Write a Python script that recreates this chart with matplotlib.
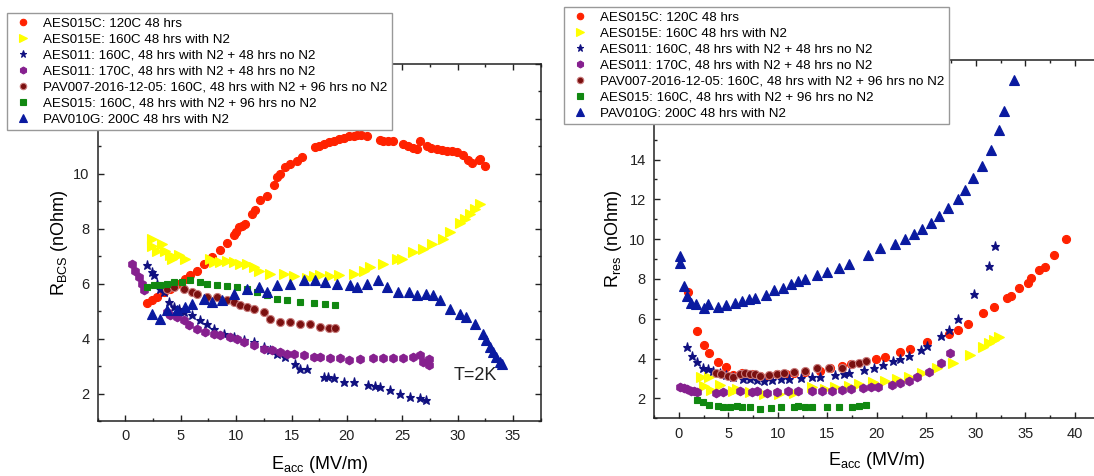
import matplotlib
matplotlib.use("Agg")
import matplotlib.pyplot as plt
from matplotlib.ticker import MultipleLocator, FixedLocator, FixedFormatter

plt.rcParams['font.family'] = ['Liberation Sans', 'DejaVu Sans']
plt.rcParams['mathtext.default'] = 'regular'

labels = [
    "AES015C: 120C 48 hrs",
    "AES015E: 160C 48 hrs with N2",
    "AES011: 160C, 48 hrs with N2 + 48 hrs no N2",
    "AES011: 170C, 48 hrs with N2 + 48 hrs no N2",
    "PAV007-2016-12-05: 160C, 48 hrs with N2 + 96 hrs no N2",
    "AES015: 160C, 48 hrs with N2 + 96 hrs no N2",
    "PAV010G: 200C 48 hrs with N2",
]

# ---------------- Left panel: R_BCS ----------------
bcs_red_x = [1.96, 2.4, 2.86, 3.46, 4.06, 4.66, 5.4, 5.87, 6.47, 7.07, 7.82, 8.57, 9.18, 9.78, 10.0, 10.23,
             10.5, 10.83, 11.43, 11.7, 12.18, 12.79, 13.39, 13.7, 13.99, 14.44, 14.9, 15.5, 15.95, 17.15, 17.5,
             17.9, 18.4, 18.8, 19.3, 19.7, 20.2, 20.6, 20.9, 21.3, 21.8, 23.0, 23.3, 23.7, 24.2, 25.1, 25.5,
             26.0, 26.3, 26.6, 27.2, 27.6, 28.1, 28.6, 29.0, 29.5, 29.9, 30.5, 30.9, 31.3, 31.9, 32.0, 32.5]
bcs_red_y = [5.30, 5.39, 5.5, 5.7, 5.82, 6.0, 6.18, 6.3, 6.48, 6.73, 6.97, 7.21, 7.48, 7.76, 7.9, 8.06,
             8.1, 8.18, 8.55, 8.7, 9.03, 9.21, 9.58, 9.9, 10.0, 10.24, 10.36, 10.48, 10.6, 10.97, 11.03,
             11.09, 11.15, 11.21, 11.26, 11.3, 11.36, 11.39, 11.43, 11.41, 11.36, 11.22, 11.21, 11.2, 11.18, 11.09, 11.0,
             10.94, 10.9, 11.18, 11.03, 10.95, 10.9, 10.88, 10.85, 10.82, 10.79, 10.67, 10.5, 10.39, 10.5, 10.55, 10.27]

bcs_yel_x = [2.4, 2.4, 2.86, 3.3, 3.6, 4.06, 4.2, 4.8, 5.4, 7.67, 7.97, 8.57, 9.18, 9.78, 10.38, 10.98,
             11.58, 12.03, 13.09, 14.29, 15.2, 16.4, 17.0, 17.6, 18.5, 19.3, 20.6, 21.5, 22.1, 23.3, 24.5,
             25.0, 26.0, 26.9, 27.7, 28.7, 29.3, 30.2, 30.7, 31.1, 31.6, 32.0]
bcs_yel_y = [7.64, 7.39, 7.2, 7.45, 7.2, 7.03, 6.9, 7.03, 6.9, 6.9, 6.79, 6.79, 6.82, 6.79, 6.73, 6.7,
             6.6, 6.48, 6.36, 6.36, 6.27, 6.22, 6.27, 6.3, 6.27, 6.3, 6.36, 6.48, 6.6, 6.73, 6.9,
             6.9, 7.15, 7.27, 7.45, 7.64, 7.88, 8.2, 8.36, 8.55, 8.73, 8.91]

bcs_star_x = [1.96, 2.4, 2.56, 2.86, 3.16, 3.46, 3.9, 4.36, 4.8, 5.26, 6.0, 6.77, 7.37, 7.97, 8.87, 9.78,
              10.68, 11.58, 12.48, 13.09, 13.69, 14.44, 15.35, 15.8, 16.4, 17.9, 18.3, 18.8, 19.7, 20.6,
              21.95, 22.5, 23.0, 23.9, 24.8, 25.7, 26.6, 27.1]
bcs_star_y = [6.67, 6.42, 6.3, 6.0, 5.82, 5.7, 5.33, 5.15, 5.09, 4.97, 4.85, 4.67, 4.55, 4.36, 4.18, 4.06,
              3.94, 3.88, 3.7, 3.58, 3.45, 3.33, 3.09, 2.91, 2.91, 2.61, 2.6, 2.55, 2.42, 2.42,
              2.3, 2.28, 2.24, 2.12, 2.0, 1.88, 1.82, 1.76]

bcs_pur_x = [0.6, 0.9, 1.2, 1.5, 1.7, 3.76, 4.06, 4.66, 5.26, 5.7, 6.47, 7.22, 7.97, 8.57, 9.48, 10.08,
             10.68, 11.58, 12.48, 13.24, 13.99, 14.59, 15.2, 16.1, 17.0, 17.6, 18.5, 19.4, 20.2, 21.2,
             22.4, 23.3, 24.2, 25.1, 26.0, 26.6, 26.9, 27.4, 27.4]
bcs_pur_y = [6.73, 6.48, 6.24, 6.0, 5.76, 4.97, 4.85, 4.79, 4.67, 4.48, 4.36, 4.24, 4.18, 4.12, 4.06, 4.0,
             3.88, 3.76, 3.64, 3.58, 3.52, 3.45, 3.43, 3.39, 3.33, 3.33, 3.31, 3.28, 3.21, 3.27,
             3.28, 3.28, 3.28, 3.31, 3.33, 3.39, 3.15, 3.03, 3.27]

bcs_pav7_x = [3.76, 4.36, 5.26, 6.0, 6.47, 7.37, 8.27, 9.18, 9.78, 10.38, 10.98, 11.58, 12.48, 13.09,
              13.99, 14.9, 15.8, 16.7, 17.6, 18.35, 18.95]
bcs_pav7_y = [5.82, 5.88, 5.82, 5.7, 5.64, 5.52, 5.52, 5.39, 5.33, 5.21, 5.15, 5.09, 4.97, 4.73,
              4.61, 4.61, 4.55, 4.52, 4.42, 4.4, 4.4]

bcs_grn_x = [1.96, 2.56, 3.16, 3.76, 4.36, 5.11, 5.87, 6.77, 7.37, 8.27, 9.18, 10.08, 10.98, 11.88,
             12.79, 13.69, 14.59, 15.8, 17.0, 18.05, 18.95]
bcs_grn_y = [5.88, 5.94, 5.94, 6.0, 6.06, 6.06, 6.12, 6.06, 6.0, 5.94, 5.9, 5.88, 5.82, 5.7,
             5.58, 5.45, 5.39, 5.33, 5.3, 5.27, 5.24]

bcs_tri_x = [2.4, 3.16, 3.76, 4.66, 5.4, 6.0, 7.07, 7.82, 8.72, 9.78, 10.98, 12.03, 12.79, 13.69, 14.9,
             16.1, 17.15, 18.05, 19.1, 20.3, 20.9, 21.8, 22.85, 23.6, 24.65, 25.6, 26.3, 27.1, 27.8,
             28.4, 29.3, 30.2, 30.8, 31.6, 32.3, 32.6, 32.9, 33.2, 33.5, 33.8, 34.0]
bcs_tri_y = [4.91, 4.73, 5.03, 5.03, 5.15, 5.27, 5.45, 5.33, 5.39, 5.64, 5.82, 5.88, 5.7, 5.94, 6.0,
             6.12, 6.12, 6.06, 6.0, 5.94, 5.88, 6.0, 6.15, 5.88, 5.7, 5.7, 5.58, 5.64, 5.58,
             5.39, 5.09, 4.91, 4.79, 4.55, 4.18, 3.94, 3.7, 3.51, 3.33, 3.15, 3.06]

# ---------------- Right panel: R_res ----------------
res_red_x = [0.96, 1.82, 2.51, 3.09, 3.95, 4.81, 5.5, 6.36, 7.39, 8.25, 9.11, 9.97, 10.83, 11.69, 12.72,
             14.27, 15.3, 16.5, 17.37, 19.94, 20.8, 22.35, 23.38, 25.1, 27.34, 28.2, 29.23, 30.78, 31.81,
             33.18, 33.53, 34.39, 35.25, 35.59, 36.38, 36.97, 37.9, 39.13]
res_red_y = [7.37, 5.39, 4.69, 4.27, 3.84, 3.6, 3.17, 3.3, 3.22, 3.14, 3.14, 3.22, 3.25, 3.3, 3.35,
             3.39, 3.55, 3.64, 3.72, 3.97, 4.06, 4.31, 4.47, 4.81, 5.23, 5.46, 5.76, 6.28, 6.6,
             7.06, 7.15, 7.57, 7.78, 8.07, 8.43, 8.6, 9.2, 9.99]

res_yel_x = [2.24, 3.09, 2.58, 3.27, 4.13, 5.5, 5.85, 7.22, 8.6, 10.14, 11.69, 13.41, 14.79, 15.82,
             17.19, 18.23, 19.6, 20.8, 22.0, 23.21, 24.59, 26.13, 27.68, 29.4, 30.78, 31.29, 31.81, 32.33]
res_yel_y = [3.05, 3.09, 2.64, 2.42, 2.67, 2.38, 2.47, 2.3, 2.22, 2.22, 2.25, 2.55, 2.47, 2.55,
             2.64, 2.72, 2.8, 2.89, 2.97, 3.09, 3.3, 3.55, 3.8, 4.19, 4.59, 4.76, 4.92, 5.09]

res_star_x = [0.86, 1.38, 1.89, 2.41, 2.92, 3.44, 4.13, 4.81, 5.5, 6.53, 7.22, 7.91, 8.6, 9.46, 10.32,
              11.18, 12.38, 13.41, 14.27, 15.82, 16.68, 17.19, 18.74, 19.77, 20.63, 21.66, 22.35, 23.21,
              24.42, 25.1, 26.48, 27.34, 28.2, 29.81, 31.29, 31.98]
res_star_y = [4.56, 4.14, 3.81, 3.55, 3.47, 3.39, 3.3, 3.19, 3.09, 2.97, 2.97, 2.92, 2.89, 2.92, 2.97,
              2.97, 3.02, 3.05, 3.05, 3.19, 3.22, 3.3, 3.42, 3.55, 3.69, 3.89, 3.97, 4.14,
              4.42, 4.64, 5.14, 5.43, 5.98, 7.26, 8.65, 9.65]

res_pur_x = [0.17, 0.52, 0.86, 1.2, 1.55, 1.89, 3.78, 4.47, 6.19, 7.39, 7.91, 8.94, 9.97, 11.0, 12.04,
             13.41, 14.44, 15.47, 16.5, 17.37, 18.57, 19.43, 20.12, 21.49, 22.35, 23.21, 24.07, 25.28,
             26.48, 27.44]
res_pur_y = [2.58, 2.52, 2.47, 2.38, 2.35, 2.3, 2.25, 2.3, 2.35, 2.3, 2.38, 2.25, 2.3, 2.35, 2.38,
             2.35, 2.38, 2.38, 2.42, 2.47, 2.52, 2.55, 2.58, 2.69, 2.75, 2.89, 3.05, 3.35,
             3.8, 4.26]

res_pav7_x = [3.78, 4.3, 4.99, 5.5, 6.19, 6.71, 7.22, 7.74, 8.25, 9.11, 9.97, 10.66, 11.69, 12.72,
              13.93, 15.13, 16.5, 17.54, 18.23, 18.91]
res_pav7_y = [3.3, 3.22, 3.14, 3.09, 3.22, 3.3, 3.22, 3.25, 3.14, 3.19, 3.22, 3.3, 3.35, 3.39,
              3.55, 3.55, 3.55, 3.72, 3.8, 3.89]

res_grn_x = [1.89, 2.41, 3.09, 3.95, 4.47, 5.16, 5.85, 6.36, 7.22, 8.25, 9.28, 10.32, 11.69, 12.04,
             12.72, 13.41, 14.96, 16.16, 17.54, 18.23, 18.91]
res_grn_y = [1.92, 1.8, 1.68, 1.63, 1.55, 1.58, 1.63, 1.55, 1.55, 1.47, 1.52, 1.55, 1.55, 1.63,
             1.58, 1.58, 1.55, 1.58, 1.58, 1.63, 1.68]

res_tri_x = [0.17, 0.17, 0.52, 0.86, 1.2, 1.72, 2.58, 2.92, 3.95, 4.81, 5.67, 6.36, 7.05, 7.74, 8.77,
             9.63, 10.49, 11.35, 12.04, 12.72, 13.93, 14.96, 16.16, 17.19, 19.08, 20.29, 21.84, 22.87,
             23.73, 24.59, 25.45, 26.31, 27.17, 28.2, 28.89, 29.75, 30.61, 31.57, 32.33, 32.9, 33.9]
res_tri_y = [9.15, 8.82, 7.65, 7.15, 6.81, 6.73, 6.56, 6.73, 6.61, 6.68, 6.78, 6.9, 6.98, 7.06, 7.2,
             7.43, 7.53, 7.77, 7.9, 7.98, 8.2, 8.37, 8.57, 8.77, 9.2, 9.54, 9.74, 9.99,
             10.24, 10.49, 10.83, 11.16, 11.58, 12.0, 12.45, 13.05, 13.67, 14.5, 15.5, 16.46, 18.0]

# y tick labels that are visible (the others sit under the legend boxes)
left_yticks = [2, 4, 6, 8, 10, 12, 14]
left_yticklabels = ['2', '4', '6', '8', '10', '', '']
right_yticks = [2, 4, 6, 8, 10, 12, 14, 16, 18]
right_yticklabels = ['2', '4', '6', '8', '10', '12', '14', '', '']

# styles: (marker, markersize, facecolor, edgecolor)
styles = [
    ('o', 5.8, '#ff2200', '#ff2200'),
    ('>', 6.5, '#ffff00', '#ffff00'),
    ('*', 6.5, '#101080', '#101080'),
    ('h', 6.2, '#86208f', '#86208f'),
    ('o', 5.8, '#7a1010', '#c87a7a'),
    ('s', 4.6, '#118811', '#118811'),
    ('^', 7.2, '#0a1aa0', '#0a1aa0'),
]

left_series = [(bcs_red_x, bcs_red_y), (bcs_yel_x, bcs_yel_y), (bcs_star_x, bcs_star_y),
               (bcs_pur_x, bcs_pur_y), (bcs_pav7_x, bcs_pav7_y), (bcs_grn_x, bcs_grn_y),
               (bcs_tri_x, bcs_tri_y)]
right_series = [(res_red_x, res_red_y), (res_yel_x, res_yel_y), (res_star_x, res_star_y),
                (res_pur_x, res_pur_y), (res_pav7_x, res_pav7_y), (res_grn_x, res_grn_y),
                (res_tri_x, res_tri_y)]

W, H = 1094, 476
fig = plt.figure(figsize=(W / 100, H / 100), dpi=100)

axL = fig.add_axes([97.7 / W, 1 - 421 / H, (540.7 - 97.7) / W, (421 - 64) / H])
axR = fig.add_axes([654 / W, 1 - 418.3 / H, 445.5 / W, (418.3 - 60) / H])


def style_axes(ax, xlim, ylim, yticks, yticklabels):
    ax.set_xlim(*xlim)
    ax.set_ylim(*ylim)
    ax.xaxis.set_major_locator(MultipleLocator(5))
    ax.xaxis.set_minor_locator(MultipleLocator(2.5))
    ax.yaxis.set_major_locator(FixedLocator(yticks))
    ax.yaxis.set_major_formatter(FixedFormatter(yticklabels))
    ax.yaxis.set_minor_locator(MultipleLocator(1))
    ax.tick_params(which='both', direction='in', top=True, right=True, width=1.0,
                   labelsize=10.5, colors='#222222', pad=6)
    ax.tick_params(which='major', length=4.5)
    ax.tick_params(which='minor', length=2.5)
    for s in ax.spines.values():
        s.set_linewidth(1.1)
        s.set_color('#222222')


def draw(ax, series):
    for (x, y), (m, ms, fc, ec), lab in zip(series, styles, labels):
        ax.plot(x, y, linestyle='none', marker=m, markersize=ms, markerfacecolor=fc,
                markeredgecolor=ec, markeredgewidth=0.8, label=lab)


draw(axL, left_series)
draw(axR, right_series)
style_axes(axL, (-2.5, 37.5), (1, 14), left_yticks, left_yticklabels)
style_axes(axR, (-2.5, 42.5), (1, 19), right_yticks, right_yticklabels)

axL.set_xlabel('E$_{acc}$ (MV/m)', fontsize=13, labelpad=8)
axL.set_ylabel('R$_{BCS}$ (nOhm)', fontsize=13, labelpad=2)
axR.set_xlabel('E$_{acc}$ (MV/m)', fontsize=13, labelpad=7)
axR.set_ylabel('R$_{res}$ (nOhm)', fontsize=13, labelpad=4)

axL.text(29.6, 2.67, 'T=2K', fontsize=13, va='center', ha='left', color='#222222')

leg_kw = dict(loc='upper left', bbox_transform=fig.transFigure, borderaxespad=0,
              fontsize=9.6, frameon=True, fancybox=False, framealpha=1, edgecolor='#999999',
              borderpad=0.35, handlelength=1.7, handletextpad=0.65, labelspacing=0.27,
              markerscale=0.8)
lgL = axL.legend(bbox_to_anchor=(7 / W, 1 - 13 / H), **leg_kw)
lgR = axR.legend(bbox_to_anchor=(564 / W, 1 - 7 / H), **leg_kw)
for lg in (lgL, lgR):
    lg.get_frame().set_linewidth(1.0)
    lg.set_zorder(10)

fig.savefig('out.png', dpi=100)
